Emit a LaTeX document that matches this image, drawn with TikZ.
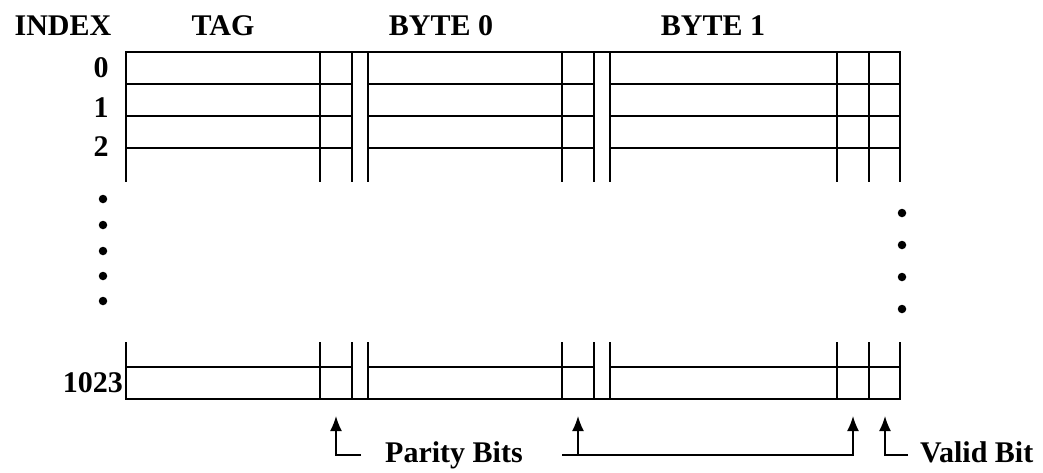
\documentclass[tikz,border=0pt]{standalone}
\usepackage{fontspec}
\setmainfont{Liberation Serif}
\usetikzlibrary{arrows.meta}
\begin{document}
\begin{tikzpicture}[x=1pt,y=-1pt,
  grid/.style={line width=1.6pt, line cap=rect},
  lbl/.style={font=\fontsize{30}{33}\selectfont\bfseries, inner sep=0pt, anchor=base},
  ptr/.style={line width=1.6pt, -{Latex[length=15pt,width=12pt]}},
  dotnode/.style={circle, fill=black, inner sep=0pt, minimum size=8.5pt}]
\useasboundingbox (0,0) rectangle (1043,472);
% headers
\node[lbl] (hidx) at (63,35) {INDEX};
\node[lbl] (htag) at (223,35) {TAG};
\node[lbl] (hb0) at (441,35) {BYTE 0};
\node[lbl] (hb1) at (713,35) {BYTE 1};
% index labels
\node[lbl] (i0) at (101,77) {0};
\node[lbl] (i1) at (101,117) {1};
\node[lbl] (i2) at (101,156) {2};
\node[lbl, anchor=base east] (i1023) at (123,392) {1023};
% top block
\draw[grid] (126,52) -- (900,52);
\foreach \y in {84,116,148}
  \draw[grid] (126,\y) -- (352,\y) (368,\y) -- (594,\y) (610,\y) -- (900,\y);
\foreach \x in {126,320,352,368,562,594,610,837,869,900}
  \draw[grid] (\x,52) -- (\x,181);
% bottom block
\foreach \x in {126,320,352,368,562,594,610,837,869,900}
  \draw[grid] (\x,343) -- (\x,399);
\draw[grid] (126,367) -- (352,367) (368,367) -- (594,367) (610,367) -- (900,367);
\draw[grid] (126,399) -- (900,399);
% dots
\foreach \y [count=\i] in {199,225,251,276,301}
  \node[dotnode] (dl\i) at (103,\y) {};
\foreach \y [count=\i] in {213,245,277,309}
  \node[dotnode] (dr\i) at (902,\y) {};
% labels below
\node[lbl, anchor=base west] (pb) at (385,462) {Parity Bits};
\node[lbl, anchor=base west] (vb) at (920,462) {Valid Bit};
% connector coordinates
\coordinate (pbl) at (361,455);
\coordinate (pbr) at (562,455);
\coordinate (j2) at (578,455);
\coordinate (vbl) at (908,455);
\coordinate (a1) at (336,416);
\coordinate (a2) at (578,416);
\coordinate (a3) at (853,416);
\coordinate (a4) at (885,416);
\draw[ptr] (pbl) -| (a1);
\draw[ptr] (pbr) -| (a3);
\draw[ptr] (j2) -- (a2);
\draw[ptr] (vbl) -| (a4);
\end{tikzpicture}
\end{document}
